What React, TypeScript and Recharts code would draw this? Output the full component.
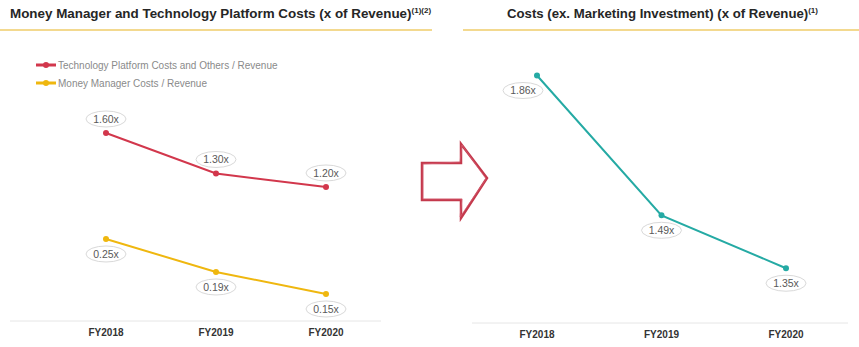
import React from 'react';
import { LineChart, Line, XAxis, YAxis, LabelList, Legend } from 'recharts';

const years = ['FY2018', 'FY2019', 'FY2020'];
const techPlatform = [1.6, 1.3, 1.2];
const moneyManager = [0.25, 0.19, 0.15];
const costsExMarketing = [1.86, 1.49, 1.35];
const legendOrder = ['Technology Platform Costs and Others / Revenue', 'Money Manager Costs / Revenue'];

const leftData = years.map((y, i) => ({ year: y, tech: techPlatform[i], mm: moneyManager[i] }));
const rightData = years.map((y, i) => ({ year: y, cost: costsExMarketing[i] }));

const RED = '#d2374c';
const YELLOW = '#efb70f';
const TEAL = '#25aaa4';
const GOLD = '#f3d98f';
const FONT = '"Liberation Sans", Arial, sans-serif';

const makeLabel = (dy: number, dxFirst = 0) => (props: any) => {
  const { x, y, value, index } = props;
  const cx = x + (index === 0 ? dxFirst : 0);
  const cy = y + dy;
  return (
    <g>
      <ellipse cx={cx} cy={cy} rx={20} ry={8} fill="#ffffff" stroke="#d9d9d9" strokeWidth={1} />
      <text x={cx} y={cy} dy="0.35em" textAnchor="middle" fontSize={10.5} fill="#595959" fontFamily={FONT}>
        {Number(value).toFixed(2)}x
      </text>
    </g>
  );
};

const LegendContent = (props: any) => {
  const payload = [...(props.payload || [])].sort(
    (a: any, b: any) => legendOrder.indexOf(a.value) - legendOrder.indexOf(b.value)
  );
  return (
    <div style={{ fontFamily: FONT }}>
      {payload.map((p: any) => (
        <div key={p.value} style={{ display: 'flex', alignItems: 'center', height: 18 }}>
          <svg width={21} height={10} style={{ marginRight: 1 }}>
            <line x1={0} y1={5} x2={20} y2={5} stroke={p.color} strokeWidth={3} />
            <circle cx={10} cy={5} r={3} fill={p.color} />
          </svg>
          <span style={{ fontSize: 10, color: '#8a8a8a' }}>{p.value}</span>
        </div>
      ))}
    </div>
  );
};

const tickStyle = { fontSize: 10, fontWeight: 700, fill: '#333333', fontFamily: FONT };

export default function App() {
  return (
    <div style={{ position: 'absolute', left: 0, top: 0, width: 859, height: 347, background: '#ffffff', overflow: 'hidden', fontFamily: FONT }}>
      <div style={{ position: 'absolute', left: 10, top: 6, fontSize: 13.4, fontWeight: 700, color: '#262626', whiteSpace: 'nowrap' }}>
        Money Manager and Technology Platform Costs (x of Revenue)<sup style={{ fontSize: 8 }}>(1)(2)</sup>
      </div>
      <div style={{ position: 'absolute', left: 0, top: 29, width: 432, height: 2, background: GOLD }} />
      <div style={{ position: 'absolute', left: 507, top: 6, fontSize: 13.2, fontWeight: 700, color: '#262626', whiteSpace: 'nowrap' }}>
        Costs (ex. Marketing Investment) (x of Revenue)<sup style={{ fontSize: 8 }}>(1)</sup>
      </div>
      <div style={{ position: 'absolute', left: 463, top: 29, width: 396, height: 2, background: GOLD }} />

      <div style={{ position: 'absolute', left: 0, top: 0 }}>
        <LineChart width={432} height={347} data={leftData} margin={{ top: 96, right: 51, left: 10, bottom: 6 }}>
          <XAxis
            dataKey="year"
            height={20}
            tickLine={false}
            axisLine={{ stroke: '#e6e6e6' }}
            tick={tickStyle}
            padding={{ left: 96, right: 55 }}
          />
          <YAxis yAxisId="a" hide type="number" domain={[0.207, 1.874]} allowDataOverflow />
          <YAxis yAxisId="b" hide type="number" domain={[0.1009, 0.51]} allowDataOverflow />
          <Legend
            layout="vertical"
            align="center"
            verticalAlign="middle"
            itemSorter={(item: any) => legendOrder.indexOf(item.value)}
            content={<LegendContent />}
            wrapperStyle={{ position: 'absolute', left: 36, top: 56, width: 300, height: 40 }}
          />
          <Line
            yAxisId="a"
            dataKey="tech"
            name="Technology Platform Costs and Others / Revenue"
            stroke={RED}
            strokeWidth={2}
            dot={{ r: 3, fill: RED, stroke: RED, strokeWidth: 0 }}
            isAnimationActive={false}
          >
            <LabelList dataKey="tech" content={makeLabel(-14)} />
          </Line>
          <Line
            yAxisId="b"
            dataKey="mm"
            name="Money Manager Costs / Revenue"
            stroke={YELLOW}
            strokeWidth={2}
            dot={{ r: 3, fill: YELLOW, stroke: YELLOW, strokeWidth: 0 }}
            isAnimationActive={false}
          >
            <LabelList dataKey="mm" content={makeLabel(15)} />
          </Line>
        </LineChart>
      </div>

      <svg style={{ position: 'absolute', left: 0, top: 0 }} width={859} height={347}>
        <polygon
          points="422,163 461,163 461,144 487,178 461,218 461,200 422,200"
          fill="none"
          stroke="#c4394c"
          strokeWidth={2.5}
          strokeLinejoin="miter"
        />
        <polygon
          points="423,164 460,162 462,145 486,179 460,217 462,199 423,199"
          fill="none"
          stroke="#d9667a"
          strokeWidth={1}
          opacity={0.6}
        />
      </svg>

      <div style={{ position: 'absolute', left: 440, top: 0 }}>
        <LineChart width={419} height={347} data={rightData} margin={{ top: 60, right: 11, left: 32, bottom: 4 }}>
          <XAxis
            dataKey="year"
            height={20}
            tickLine={false}
            axisLine={{ stroke: '#e6e6e6' }}
            tick={tickStyle}
            padding={{ left: 65, right: 62 }}
          />
          <YAxis hide type="number" domain={[1.205, 1.901]} allowDataOverflow />
          <Line
            dataKey="cost"
            name="Costs (ex. Marketing Investment) / Revenue"
            stroke={TEAL}
            strokeWidth={2}
            dot={{ r: 3, fill: TEAL, stroke: TEAL, strokeWidth: 0 }}
            isAnimationActive={false}
          >
            <LabelList dataKey="cost" content={makeLabel(15, -14)} />
          </Line>
        </LineChart>
      </div>
    </div>
  );
}
